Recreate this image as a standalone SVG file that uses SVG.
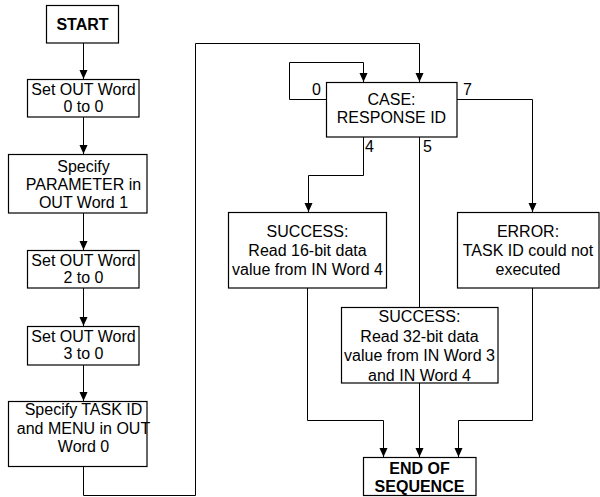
<svg xmlns="http://www.w3.org/2000/svg" width="600" height="497" viewBox="0 0 600 497">
<style>
.box{fill:#fff;stroke:#000;stroke-width:1.2}
.t{font-family:"Liberation Sans",Arial,sans-serif;font-size:16px;fill:#000;text-anchor:middle}
.b{font-weight:bold}
.lbl{font-family:"Liberation Sans",Arial,sans-serif;font-size:16px;fill:#000}
.c{fill:none;stroke:#000;stroke-width:1}
.a{marker-end:url(#arr)}
</style>
<defs>
<marker id="arr" markerUnits="userSpaceOnUse" markerWidth="10" markerHeight="10" refX="9" refY="4" orient="auto">
<path d="M0,0 L9,4 L0,8 z" fill="#000"/>
</marker>
</defs>
<rect width="600" height="497" fill="#fff"/>
<g id="connectors">
<path class="c a" d="M83.5,43 V79"/>
<path class="c a" d="M83.5,117 V154"/>
<path class="c a" d="M83.5,213 V250"/>
<path class="c a" d="M83.5,288 V326"/>
<path class="c a" d="M83.5,365 V401"/>
<path class="c a" d="M83.5,466 V495.5 H195.5 V43.5 H419.5 V82"/>
<path class="c a" d="M326,99.5 H289.5 V62.5 H363.5 V82"/>
<path class="c a" d="M363.5,137 V175.5 H308.5 V212"/>
<path class="c" d="M419.5,137 V307"/>
<path class="c a" d="M457,99.5 H532.5 V212"/>
<path class="c a" d="M307.5,288 V420.5 H383.5 V457"/>
<path class="c a" d="M419.5,383 V457"/>
<path class="c a" d="M532.5,288 V420.5 H458.5 V457"/>
<text class="lbl" x="312" y="95">0</text>
<text class="lbl" x="463" y="95">7</text>
<text class="lbl" x="365" y="152">4</text>
<text class="lbl" x="423" y="152">5</text>
</g>
<g id="start">
<rect class="box" x="46.5" y="5.5" width="72" height="37.5"/>
<text class="t b" x="82.5" y="30">START</text>
</g>
<g id="set0">
<rect class="box" x="27.5" y="79.5" width="111.5" height="37.5"/>
<text class="t" x="83.5" y="95">Set OUT Word</text>
<text class="t" x="83.5" y="112">0 to 0</text>
</g>
<g id="param">
<rect class="box" x="8.5" y="154.5" width="138.5" height="58.5"/>
<text class="t" x="83.5" y="172">Specify</text>
<text class="t" x="83.5" y="190">PARAMETER in</text>
<text class="t" x="83.5" y="208">OUT Word 1</text>
</g>
<g id="set2">
<rect class="box" x="27.5" y="250.5" width="111.5" height="37.5"/>
<text class="t" x="83.5" y="266">Set OUT Word</text>
<text class="t" x="83.5" y="283">2 to 0</text>
</g>
<g id="set3">
<rect class="box" x="27.5" y="326.5" width="111.5" height="38.5"/>
<text class="t" x="83.5" y="342">Set OUT Word</text>
<text class="t" x="83.5" y="359">3 to 0</text>
</g>
<g id="task">
<rect class="box" x="8.5" y="401.5" width="138.5" height="65"/>
<text class="t" x="83.5" y="415">Specify TASK ID</text>
<text class="t" x="83.5" y="433.5">and MENU in OUT</text>
<text class="t" x="83.5" y="452">Word 0</text>
</g>
<g id="case">
<rect class="box" x="326.5" y="82.5" width="130.5" height="54.5"/>
<text class="t" x="391.5" y="105">CASE:</text>
<text class="t" x="391.5" y="123">RESPONSE ID</text>
</g>
<g id="success16">
<rect class="box" x="228.5" y="212.5" width="158" height="75.5"/>
<text class="t" x="307.5" y="237">SUCCESS:</text>
<text class="t" x="307.5" y="256">Read 16-bit data</text>
<text class="t" x="307.5" y="275">value from IN Word 4</text>
</g>
<g id="error">
<rect class="box" x="457.5" y="212.5" width="141.5" height="75.5"/>
<text class="t" x="528" y="237">ERROR:</text>
<text class="t" x="528" y="256">TASK ID could not</text>
<text class="t" x="528" y="275">executed</text>
</g>
<g id="success32">
<rect class="box" x="341.5" y="307.5" width="156.5" height="75.5"/>
<text class="t" x="419.5" y="322">SUCCESS:</text>
<text class="t" x="419.5" y="341.5">Read 32-bit data</text>
<text class="t" x="419.5" y="361">value from IN Word 3</text>
<text class="t" x="419.5" y="380.5">and IN Word 4</text>
</g>
<g id="end">
<rect class="box" x="363.5" y="457.5" width="112.5" height="38"/>
<text class="t b" x="419.5" y="474">END OF</text>
<text class="t b" x="419.5" y="492">SEQUENCE</text>
</g>
</svg>
